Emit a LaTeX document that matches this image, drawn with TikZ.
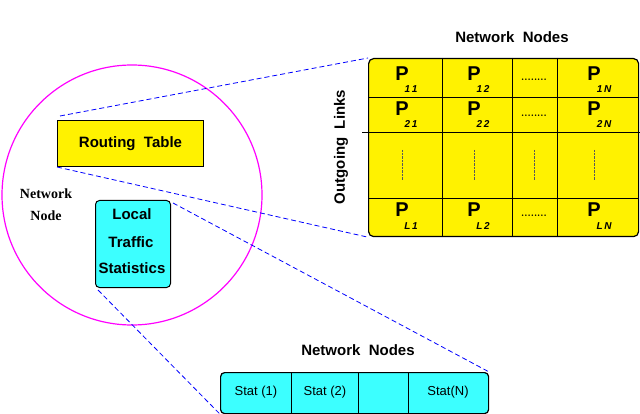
\documentclass[tikz,border=0pt]{standalone}
\usepackage{fontspec}
\newfontfamily\hv{Liberation Sans}
\newfontfamily\tm{Liberation Serif}
\definecolor{cy}{RGB}{60,255,255}
\definecolor{mg}{RGB}{255,0,255}
\begin{document}
\begin{tikzpicture}[x=1pt,y=-1pt,
  lnk/.style={blue,dash pattern=on 5pt off 3pt,line width=0.8pt},
  lbl/.style={font=\hv\bfseries\fontsize{15}{17}\selectfont},
  pp/.style={font=\hv\bfseries\fontsize{20}{20}\selectfont,inner sep=1pt},
  sb/.style={font=\hv\bfseries\itshape\fontsize{10}{10}\selectfont,inner sep=1pt},
  cell/.style={font=\hv\fontsize{13}{14}\selectfont}]
\useasboundingbox (0,0) rectangle (640,414);
\node[draw=mg,line width=1.2pt,circle,minimum size=260pt,inner sep=0] (circ) at (132,195) {};
\node[draw,fill=yellow,line width=1pt,minimum width=146pt,minimum height=46pt,anchor=north west,lbl] (rt) at (57,120) {Routing\ \ Table};
\node[draw,fill=cy,line width=1pt,rounded corners=4pt,minimum width=75pt,minimum height=87pt,anchor=north west] (lts) at (95,200) {};
\node[lbl] (l1) at (132,214) {Local};
\node[lbl] (l2) at (131,242) {Traffic};
\node[lbl] (l3) at (132,268) {Statistics};
\node[font=\tm\bfseries\fontsize{14}{22}\selectfont,align=center] (nn) at (46,205) {Network\\Node};
% matrix
\node[draw,fill=yellow,line width=1.2pt,rounded corners=5pt,minimum width=270pt,minimum height=178pt,anchor=north west] (mx) at (368,58) {};
\coordinate (m1) at (442,58); \coordinate (m1b) at (442,236);
\coordinate (m2) at (512,58); \coordinate (m2b) at (512,236);
\coordinate (m3) at (557,58); \coordinate (m3b) at (557,236);
\coordinate (r1) at (368,97); \coordinate (r1b) at (638,97);
\coordinate (r2) at (362,132); \coordinate (r2b) at (640,132);
\coordinate (r3) at (368,198); \coordinate (r3b) at (638,198);
\draw[line width=0.6pt] (m1)--(m1b) (m2)--(m2b) (m3)--(m3b) (r1)--(r1b) (r2)--(r2b) (r3)--(r3b);
\foreach \x/\c in {405/1,477/2,597/N}{
  \node[pp] (pa\c) at (\x-3,74) {P};
  \node[pp] (pb\c) at (\x-3,109) {P};
  \node[pp] (pc\c) at (\x-3,210) {P};
  \draw[densely dotted,gray!70!black] (\x-3,150)--(\x-3,180);
}
\draw[densely dotted,gray!70!black] (534,150)--(534,180);
\node[sb] (s11) at (411,89) {1\,1};
\node[sb] (s12) at (483,89) {1\,2};
\node[sb] (s1N) at (604,89) {1\,N};
\node[sb] (s21) at (411,124) {2\,1};
\node[sb] (s22) at (483,124) {2\,2};
\node[sb] (s2N) at (604,124) {2\,N};
\node[sb] (sL1) at (411,226) {L\,1};
\node[sb] (sL2) at (483,226) {L\,2};
\node[sb] (sLN) at (604,226) {L\,N};
\foreach \y in {80,116,216}{\node[font=\bfseries] at (534,\y) {........};}
\node[lbl] (t1) at (512,37) {Network\ \ Nodes};
\node[lbl,rotate=90] (t2) at (341,147) {Outgoing\ \ Links};
% bottom bar
\node[draw,fill=cy,line width=1.2pt,rounded corners=4pt,minimum width=268pt,minimum height=41pt,anchor=north west] (bar) at (220,372) {};
\draw[line width=0.6pt] (291,372)--(291,413) (358,372)--(358,413) (408,372)--(408,413);
\node[cell] (c1) at (256,392) {Stat (1)};
\node[cell] (c2) at (325,392) {Stat (2)};
\node[cell] (c3) at (448,392) {Stat(N)};
\node[lbl] (t3) at (358,350) {Network\ \ Nodes};
% links
\draw[lnk] (60,116)--(mx.north west);
\draw[lnk] (rt.south west)--(mx.south west);
\draw[lnk] (173,203)--(bar.north east);
\draw[lnk] (98,290)--(bar.south west);
\end{tikzpicture}
\end{document}
